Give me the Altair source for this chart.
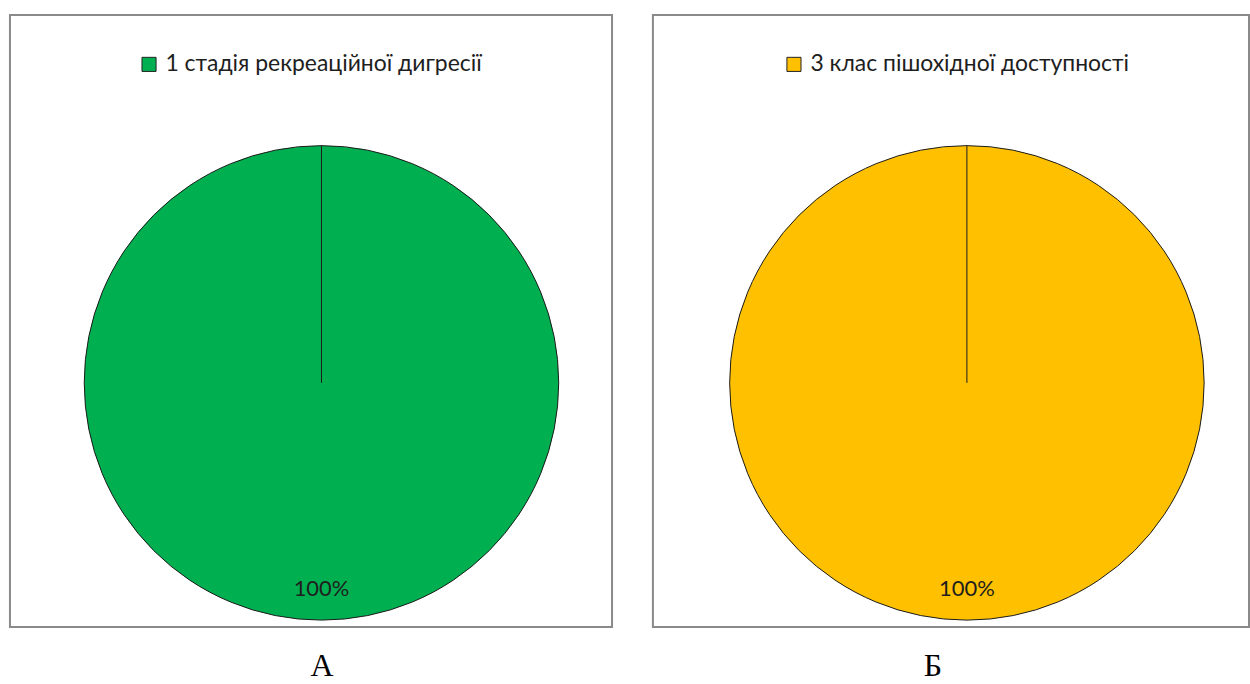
import altair as alt
import pandas as pd

# Chart A: recreational digression stages
stages = ["1 стадія рекреаційної дигресії"]
stage_shares = [100]

# Chart Б: pedestrian accessibility classes
classes = ["3 клас пішохідної доступності"]
class_shares = [100]

GREEN = "#00B050"
YELLOW = "#FFC000"
LABEL_FONT = "Lato"
R = 238          # pie radius
CY = 369         # pie centre, from the top of each panel
PANEL_H = 614


def panel(categories, shares, color, width, cx, legend_x, caption, caption_dx):
    df = pd.DataFrame({"category": categories, "share": shares})
    base = alt.Chart(df).encode(theta=alt.Theta("share:Q", stack=True))

    pie = base.mark_arc(radius=R, stroke="#1a1a1a", strokeWidth=1).encode(
        color=alt.Color(
            "category:N",
            scale=alt.Scale(range=[color]),
            legend=alt.Legend(
                orient="none",
                legendX=legend_x,
                legendY=38,
                title=None,
                symbolType="square",
                symbolSize=200,
                symbolStrokeColor="#222222",
                symbolStrokeWidth=1,
                labelFont=LABEL_FONT,
                labelFontSize=23,
                labelColor="#1e1e1e",
                labelLimit=600,
                labelOffset=5,
            ),
        ),
        x=alt.value(cx),
        y=alt.value(CY),
    )

    # boundary of the single slice, running from the centre up to 12 o'clock
    edge = base.mark_rule(color="#1a1a1a", strokeWidth=1).encode(
        x=alt.value(cx), y=alt.value(CY - R), y2=alt.value(CY)
    )

    label = base.transform_calculate(txt="datum.share + '%'").mark_text(
        radius=207, font=LABEL_FONT, fontSize=22, color="#1e1e1e"
    ).encode(text="txt:N", x=alt.value(cx), y=alt.value(CY))

    return alt.layer(pie, edge, label).properties(
        width=width,
        height=PANEL_H,
        title=alt.TitleParams(
            caption,
            orient="bottom",
            font="Liberation Serif",
            fontSize=32,
            fontWeight="normal",
            color="#000000",
            dx=caption_dx,
            offset=24,
        ),
    )


left = panel(stages, stage_shares, GREEN, 604, 312.5, 128, "А", 11)
right = panel(classes, class_shares, YELLOW, 598, 315, 130, "Б", -18)

chart = (
    alt.hconcat(left, right, spacing=39)
    .resolve_scale(color="independent", theta="independent")
    .properties(padding={"left": 9, "top": 13, "right": 0, "bottom": 0}, background="white")
    .configure_view(stroke="#8a8a8a", strokeWidth=2)
)

chart.save("out.html", embed_options={"renderer": "svg", "actions": False})
